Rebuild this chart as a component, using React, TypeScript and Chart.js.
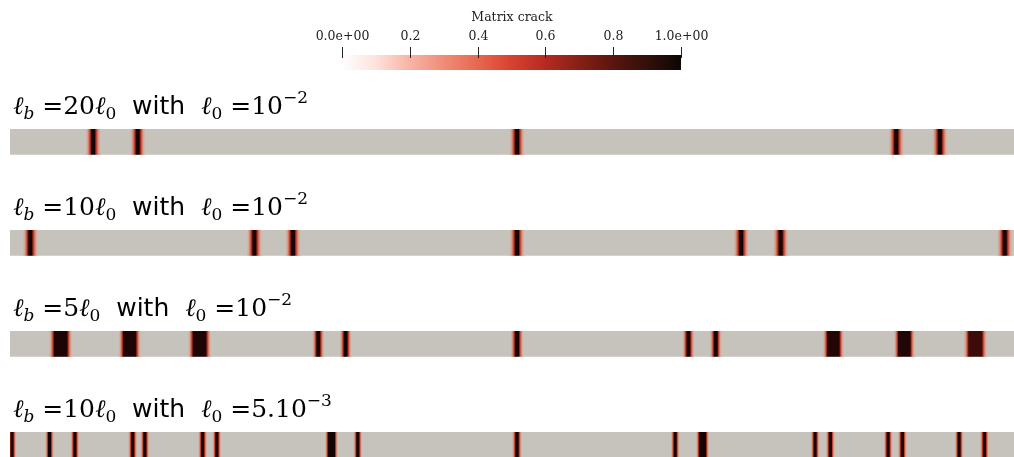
import React, { useEffect, useRef } from "react";
import { Chart, registerables } from "chart.js";

Chart.register(...registerables);

// ---------- data ----------
const stripRows = [0, 1, 2, 3];
const lbFactors = ["20", "10", "5", "10"];
const l0Mantissa = ["10", "10", "10", "5.10"];
const l0Exponent = ["−2", "−2", "−2", "−3"];

// crack centres as a fraction of the bar length
const crackCenters1 = [0.082, 0.126, 0.5, 0.874, 0.917];
const crackCenters2 = [0.02, 0.241, 0.279, 0.5, 0.721, 0.76, 0.981];
const crackCenters3 = [0.05, 0.118, 0.187, 0.304, 0.331, 0.5, 0.669, 0.696, 0.812, 0.882, 0.952];
const crackCenters4 = [
  0.002, 0.039, 0.064, 0.121, 0.133, 0.19, 0.204, 0.317, 0.343, 0.5,
  0.656, 0.683, 0.794, 0.809, 0.866, 0.88, 0.936, 0.961,
];
// full width of each damaged band (fraction of bar length)
const crackWidths1 = [0.015, 0.015, 0.015, 0.015, 0.015];
const crackWidths2 = [0.015, 0.015, 0.015, 0.015, 0.015, 0.015, 0.015];
const crackWidths3 = [0.023, 0.022, 0.023, 0.012, 0.012, 0.013, 0.012, 0.012, 0.021, 0.021, 0.023];
const crackWidths4 = [
  0.009, 0.009, 0.009, 0.009, 0.009, 0.009, 0.009, 0.013, 0.009, 0.01,
  0.009, 0.013, 0.009, 0.009, 0.009, 0.009, 0.009, 0.009,
];
// fraction of the band that is fully damaged (dark core)
const crackCores1 = [0.2, 0.2, 0.2, 0.2, 0.2];
const crackCores2 = [0.2, 0.2, 0.2, 0.2, 0.2, 0.2, 0.2];
const crackCores3 = [0.55, 0.55, 0.55, 0.25, 0.25, 0.25, 0.25, 0.25, 0.55, 0.55, 0.55];
const crackCores4 = [
  0.25, 0.25, 0.25, 0.25, 0.25, 0.25, 0.25, 0.5, 0.25, 0.25,
  0.25, 0.5, 0.25, 0.25, 0.25, 0.25, 0.25, 0.25,
];
const crackCoreColors3 = [
  "#1c0504", "#1c0504", "#1c0504", "#140404", "#140404", "#140404",
  "#140404", "#140404", "#220605", "#220605", "#3c0c08",
];

const colorbarTicks = [0, 0.2, 0.4, 0.6, 0.8, 1];
const colorbarTickLabels = ["0.0e+00", "0.2", "0.4", "0.6", "0.8", "1.0e+00"];
const colorbarStops: [number, string][] = [
  [0, "#ffffff"],
  [0.1, "#fde2dc"],
  [0.2, "#f7b3a4"],
  [0.3, "#f08c78"],
  [0.4, "#e7684f"],
  [0.5, "#d84130"],
  [0.6, "#b52a20"],
  [0.7, "#862016"],
  [0.8, "#5a150f"],
  [0.9, "#321009"],
  [1, "#0c0606"],
];

const GRAY = "rgb(198,195,188)";
const DARK = "#140404";

const stripCenters = [crackCenters1, crackCenters2, crackCenters3, crackCenters4];
const stripWidths = [crackWidths1, crackWidths2, crackWidths3, crackWidths4];
const stripCores = [crackCores1, crackCores2, crackCores3, crackCores4];

function buildCrackData() {
  const out: any[] = [];
  stripRows.forEach((row) => {
    const cs = stripCenters[row];
    cs.forEach((c, k) => {
      const w = stripWidths[row][k];
      out.push({
        x: [c - w / 2, c + w / 2],
        y: row,
        core: stripCores[row][k],
        color: row === 2 ? crackCoreColors3[k] : DARK,
      });
    });
  });
  return out;
}

function crackFill(ctx: any) {
  if (ctx.type !== "data") return DARK;
  const raw = ctx.raw;
  const chart = ctx.chart;
  const xs = chart.scales && chart.scales.x;
  if (!xs || !raw) return DARK;
  const x0 = xs.getPixelForValue(raw.x[0]);
  const x1 = xs.getPixelForValue(raw.x[1]);
  if (!isFinite(x0) || !isFinite(x1) || x1 <= x0) return DARK;
  const g = chart.ctx.createLinearGradient(x0, 0, x1, 0);
  const f = (1 - raw.core) / 2;
  const ramp: [number, string][] = [
    [0, GRAY],
    [0.3, "rgb(212,168,154)"],
    [0.55, "rgb(214,110,88)"],
    [0.75, "rgb(185,52,36)"],
    [0.92, "rgb(95,22,15)"],
  ];
  ramp.forEach(([p, c]) => g.addColorStop(p * f, c));
  g.addColorStop(f, raw.color);
  g.addColorStop(1 - f, raw.color);
  ramp
    .slice()
    .reverse()
    .forEach(([p, c]) => g.addColorStop(1 - p * f, c));
  return g;
}

type Seg = { t: string; font: string; dy: number };

function titleSegments(i: number): Seg[] {
  const M = 25;
  const S = 17;
  const it = `italic ${M}px "DejaVu Serif"`;
  const itS = `italic ${S}px "DejaVu Serif"`;
  const rm = `${M}px "DejaVu Serif"`;
  const rmS = `${S}px "DejaVu Serif"`;
  const sans = `25px "DejaVu Sans"`;
  return [
    { t: "ℓ", font: it, dy: 0 },
    { t: "b", font: itS, dy: 5 },
    { t: " =", font: rm, dy: 0 },
    { t: lbFactors[i], font: rm, dy: 0 },
    { t: "ℓ", font: it, dy: 0 },
    { t: "0", font: rmS, dy: 5 },
    { t: "  with  ", font: sans, dy: 0 },
    { t: "ℓ", font: it, dy: 0 },
    { t: "0", font: rmS, dy: 5 },
    { t: " =", font: rm, dy: 0 },
    { t: l0Mantissa[i], font: rm, dy: 0 },
    { t: l0Exponent[i], font: rmS, dy: -11 },
  ];
}

const titlesPlugin = {
  id: "stripTitles",
  afterDatasetsDraw(chart: any) {
    const ctx = chart.ctx;
    const ys = chart.scales.y;
    ctx.save();
    ctx.fillStyle = "#000";
    ctx.textBaseline = "alphabetic";
    ctx.textAlign = "left";
    stripRows.forEach((i) => {
      const base = ys.getPixelForValue(i) - 28;
      let x = 13;
      titleSegments(i).forEach((s) => {
        ctx.font = s.font;
        ctx.fillText(s.t, x, base + s.dy);
        x += ctx.measureText(s.t).width;
      });
    });
    ctx.restore();
  },
};

const colorbarPlugin = {
  id: "colorbar",
  afterDraw(chart: any) {
    const ctx = chart.ctx;
    const left = 342;
    const right = 681;
    const top = 55;
    const bottom = 70;
    ctx.save();
    const g = ctx.createLinearGradient(left, 0, right, 0);
    colorbarStops.forEach(([p, c]) => g.addColorStop(p, c));
    ctx.fillStyle = g;
    ctx.fillRect(left, top, right - left, bottom - top);
    ctx.strokeStyle = "#222";
    ctx.lineWidth = 1;
    ctx.fillStyle = "#222";
    ctx.font = `12.5px "DejaVu Serif"`;
    ctx.textAlign = "center";
    ctx.textBaseline = "alphabetic";
    colorbarTicks.forEach((v, k) => {
      const x = Math.round(left + v * (right - left)) + 0.5;
      ctx.beginPath();
      ctx.moveTo(x, 47);
      ctx.lineTo(x, 58);
      ctx.stroke();
      ctx.fillText(colorbarTickLabels[k], x, 40);
    });
    ctx.fillText("Matrix crack", 512, 21);
    ctx.restore();
  },
};

export default function App() {
  const ref = useRef<HTMLCanvasElement | null>(null);
  useEffect(() => {
    const canvas = ref.current;
    if (!canvas) return;
    const chart = new Chart(canvas, {
      type: "bar",
      data: {
        datasets: [
          {
            label: "cracks",
            data: buildCrackData(),
            backgroundColor: crackFill,
            borderWidth: 0,
            barThickness: 25,
            grouped: false,
            order: 1,
          } as any,
          {
            label: "bars",
            data: stripRows.map((r) => ({ x: [0, 1], y: r })),
            backgroundColor: GRAY,
            borderWidth: 0,
            barThickness: 25,
            grouped: false,
            order: 2,
          } as any,
        ],
      },
      options: {
        indexAxis: "y",
        animation: false,
        responsive: false,
        devicePixelRatio: 1,
        events: [],
        layout: { padding: { left: 10, right: 0, top: 91.3, bottom: 0 } },
        plugins: {
          legend: { display: false },
          tooltip: { enabled: false },
          title: { display: false },
        },
        scales: {
          x: { type: "linear", display: false, min: 0, max: 1004 / 1014 },
          y: {
            type: "linear",
            display: false,
            min: -0.5,
            max: 3.12,
            reverse: true,
            offset: false,
          },
        },
      } as any,
      plugins: [titlesPlugin, colorbarPlugin],
    });
    return () => chart.destroy();
  }, []);
  return (
    <canvas
      ref={ref}
      width={1014}
      height={457}
      style={{ position: "fixed", left: 0, top: 0, width: 1014, height: 457, display: "block" }}
    />
  );
}
